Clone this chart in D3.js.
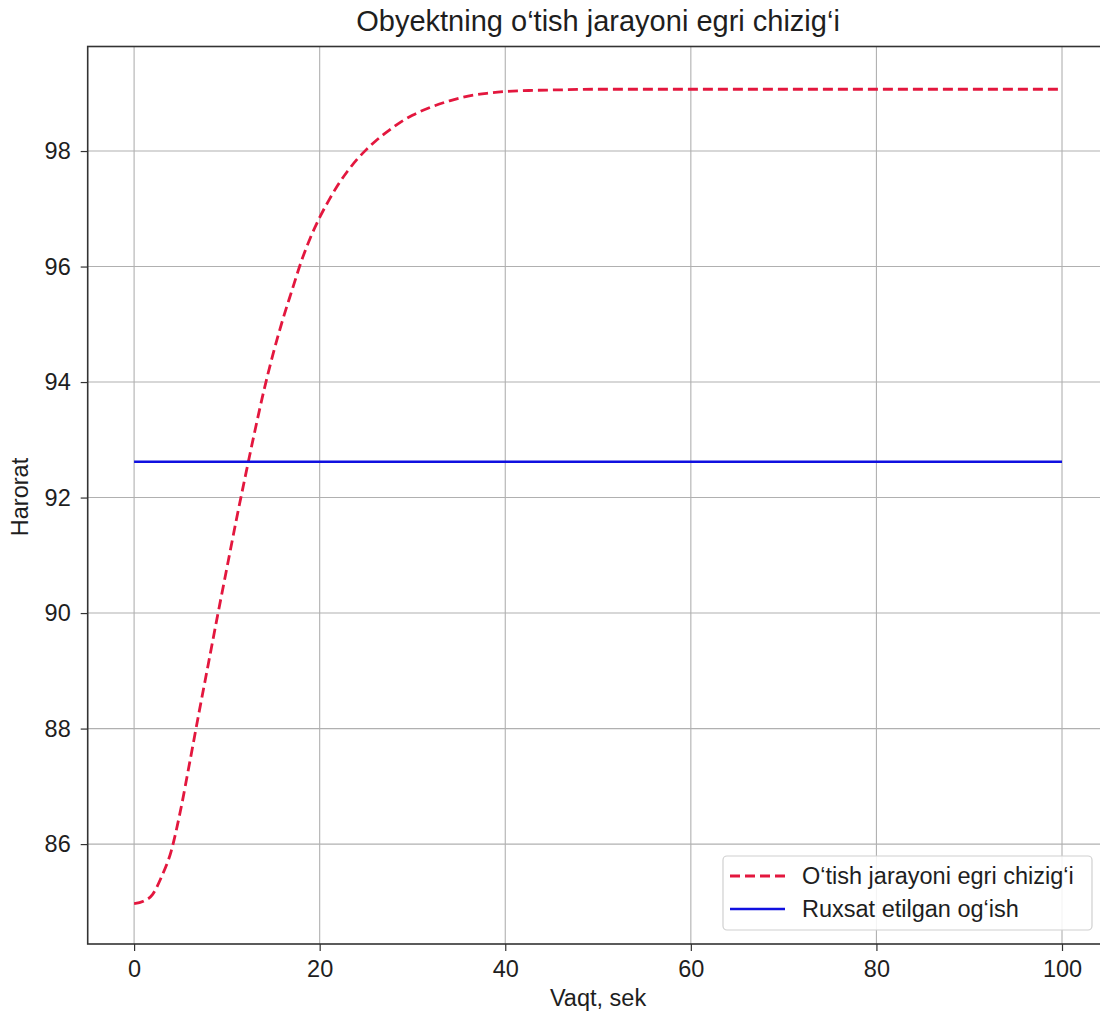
<!DOCTYPE html>
<html>
<head>
<meta charset="utf-8">
<script src="https://cdn.jsdelivr.net/npm/d3@7"></script>
<style>
  html, body { margin: 0; padding: 0; background: #fff; }
  svg { display: block; font-family: "Liberation Sans", Arial, sans-serif; }
</style>
</head>
<body>
<svg id="chart" width="1100" height="1014"></svg>
<script>
// ---- data ----
const timeSec = [0, 1, 2, 3, 4, 5, 6, 7, 8, 9, 10, 11, 12, 13, 14, 15, 16, 17, 18, 19, 20,
  21, 22, 23, 24, 25, 26, 27, 28, 29, 30, 32, 34, 36, 38, 40, 43, 46, 50, 60, 70, 80, 90, 100];
const temperature = [84.97, 85.01, 85.13, 85.45, 85.88, 86.58, 87.42, 88.28, 89.12, 89.96, 90.78,
  91.6, 92.38, 93.14, 93.86, 94.5, 95.07, 95.58, 96.08, 96.5, 96.85,
  97.15, 97.42, 97.65, 97.85, 98.02, 98.17, 98.3, 98.42, 98.53, 98.62, 98.76, 98.87, 98.95, 99.0,
  99.03, 99.05, 99.06, 99.07, 99.07, 99.07, 99.07, 99.07, 99.07];
const allowedDeviation = 92.62;
const allowedRange = [0, 100];
const xTicks = [0, 20, 40, 60, 80, 100];
const yTicks = [86, 88, 90, 92, 94, 96, 98];
const titleText = "Obyektning o\u2018tish jarayoni egri chizig\u2018i";
const xLabel = "Vaqt, sek";
const yLabel = "Harorat";
const legendLabels = ["O\u2018tish jarayoni egri chizig\u2018i", "Ruxsat etilgan og\u2018ish"];

// ---- layout ----
const svg = d3.select("#chart");
const pLeft = 87.7, pRight = 1108.4, pTop = 46.5, pBottom = 944;
const x = d3.scaleLinear().domain([-5, 105]).range([pLeft, pRight]);
const y = d3.scaleLinear().domain([84.27, 99.81]).range([pBottom, pTop]);

const gridColor = "#b0b0b0";
const spineColor = "#333";
const textColor = "#1e1e1e";
const red = "#e3173e";
const blue = "#1010e0";
const fontSize = "23.5px";

// grid
const g = svg.append("g");
g.selectAll(".vg").data(xTicks).enter().append("line")
  .attr("x1", d => x(d)).attr("x2", d => x(d))
  .attr("y1", pTop).attr("y2", pBottom)
  .attr("stroke", gridColor).attr("stroke-width", 1.1);
g.selectAll(".hg").data(yTicks).enter().append("line")
  .attr("x1", pLeft).attr("x2", pRight)
  .attr("y1", d => y(d)).attr("y2", d => y(d))
  .attr("stroke", gridColor).attr("stroke-width", 1.1);

// axes
const xAxis = d3.axisBottom(x).tickValues(xTicks).tickSize(7).tickPadding(9).tickFormat(d3.format("d"));
const yAxis = d3.axisLeft(y).tickValues(yTicks).tickSize(7).tickPadding(10).tickFormat(d3.format("d"));
const gx = svg.append("g").attr("transform", `translate(0,${pBottom})`).call(xAxis);
const gy = svg.append("g").attr("transform", `translate(${pLeft},0)`).call(yAxis);
[gx, gy].forEach(a => {
  a.select(".domain").remove();
  a.selectAll(".tick line").attr("stroke", spineColor).attr("stroke-width", 1.2);
  a.selectAll(".tick text").attr("fill", textColor).style("font-size", fontSize)
    .style("font-family", "'Liberation Sans', Arial, sans-serif");
});

// data lines
const line = d3.line().x((d, i) => x(timeSec[i])).y(d => y(d)).curve(d3.curveMonotoneX);
svg.append("path").datum(temperature)
  .attr("d", line).attr("fill", "none")
  .attr("stroke", red).attr("stroke-width", 2.8)
  .attr("stroke-dasharray", "10,5");
svg.append("line")
  .attr("x1", x(allowedRange[0])).attr("x2", x(allowedRange[1]))
  .attr("y1", y(allowedDeviation)).attr("y2", y(allowedDeviation))
  .attr("stroke", blue).attr("stroke-width", 2.4);

// spines
svg.append("rect").attr("x", pLeft).attr("y", pTop)
  .attr("width", pRight - pLeft).attr("height", pBottom - pTop)
  .attr("fill", "none").attr("stroke", spineColor).attr("stroke-width", 1.6);

// title and labels
svg.append("text").attr("x", (pLeft + pRight) / 2).attr("y", 31)
  .attr("text-anchor", "middle").attr("fill", textColor).style("font-size", "29px").text(titleText);
svg.append("text").attr("x", (pLeft + pRight) / 2).attr("y", 1006)
  .attr("text-anchor", "middle").attr("fill", textColor).style("font-size", fontSize).text(xLabel);
svg.append("text").attr("transform", `translate(28,497) rotate(-90)`)
  .attr("text-anchor", "middle").attr("fill", textColor).style("font-size", fontSize).text(yLabel);

// legend
const lg = svg.append("g");
lg.append("rect").attr("x", 723).attr("y", 856).attr("width", 369).attr("height", 74)
  .attr("rx", 4).attr("fill", "rgba(255,255,255,0.85)").attr("stroke", "#d0d0d0").attr("stroke-width", 1.2);
const legendStyles = [{ c: red, dash: "10,5", w: 2.8 }, { c: blue, dash: null, w: 2.4 }];
legendLabels.forEach((lab, i) => {
  const yy = 876 + i * 33;
  lg.append("line").attr("x1", 730).attr("x2", 785).attr("y1", yy).attr("y2", yy)
    .attr("stroke", legendStyles[i].c).attr("stroke-width", legendStyles[i].w)
    .attr("stroke-dasharray", legendStyles[i].dash);
  lg.append("text").attr("x", 802).attr("y", yy + 8).attr("fill", textColor)
    .style("font-size", fontSize).text(lab);
});
</script>
</body>
</html>
